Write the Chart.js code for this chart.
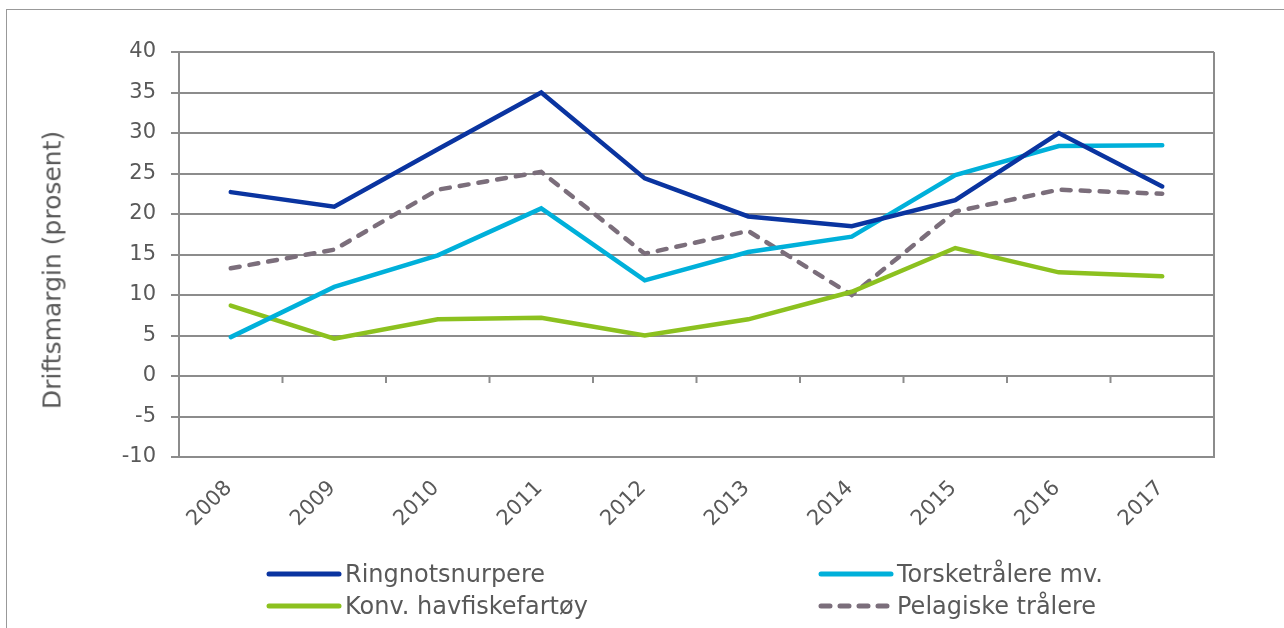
<!DOCTYPE html>
<html>
<head>
<meta charset="utf-8">
<script src="https://cdn.jsdelivr.net/npm/chart.js@4/dist/chart.umd.min.js"></script>
<style>
  html, body { margin: 0; padding: 0; background: #fff; overflow: hidden; }
  #wrap { position: relative; width: 1284px; height: 628px; }
  #frame { position: absolute; left: 6px; top: 9px; width: 1300px; height: 700px; border: 1.5px solid #999; box-sizing: border-box; }
  #price-chart { position: absolute; left: 0; top: 0; }
  #ytitle { position: absolute; left: 52px; top: 270px; transform: translate(-50%, -50%) rotate(-90deg);
            font-family: "DejaVu Sans", Verdana, sans-serif; font-size: 25px; color: #595959; white-space: nowrap; }
  .lg { position: absolute; font-family: "DejaVu Sans", Verdana, sans-serif; font-size: 24px; color: #595959; white-space: nowrap; line-height: 32px; }
  .lg svg { position: absolute; left: 0; top: 11px; }
  .lg span { position: absolute; left: 79px; top: 0; }
</style>
</head>
<body>
<div id="wrap">
  <div id="frame"></div>
  <canvas id="price-chart" width="1284" height="628"></canvas>
  <div id="ytitle">Driftsmargin (prosent)</div>
  <div id="legend"></div>
</div>
<script>
// ============================================================
// Driftsmargin per flåtegruppe, 2008–2017
// ============================================================

var YEARS = ['2008', '2009', '2010', '2011', '2012', '2013', '2014', '2015', '2016', '2017'];

var RINGNOT   = [22.7, 20.9, 28.0, 35.0, 24.4, 19.7, 18.5, 21.7, 30.0, 23.4];
var TORSKETR  = [4.8, 11.0, 14.9, 20.7, 11.8, 15.3, 17.2, 24.8, 28.4, 28.5];
var KONV      = [8.7, 4.6, 7.0, 7.2, 5.0, 7.0, 10.4, 15.8, 12.8, 12.3];
var PELAGISKE = [13.3, 15.6, 23.0, 25.2, 15.1, 17.9, 10.0, 20.3, 23.0, 22.5];

var Y_TICKS = [-10, -5, 0, 5, 10, 15, 20, 25, 30, 35, 40];

var TXT = '#595959';
var GRID = '#8c8c8c';
var FONT = '"DejaVu Sans", Verdana, sans-serif';

var series = [
  { label: 'Ringnotsnurpere',      data: RINGNOT,   color: '#0a34a0', dash: [] },
  { label: 'Torsketrålere mv.',    data: TORSKETR,  color: '#00b0da', dash: [] },
  { label: 'Konv. havfiskefartøy', data: KONV,      color: '#8cc11f', dash: [] },
  { label: 'Pelagiske trålere',    data: PELAGISKE, color: '#7b6e7b', dash: [9, 10] }
];

// legend slots: two columns, two rows (order as in original)
var legendSlots = [ { x: 266, y: 558 }, { x: 818, y: 558 }, { x: 266, y: 590 }, { x: 818, y: 590 } ];

// zero-line ticks + right border of the plot box
var boxPlugin = {
  id: 'boxExtras',
  beforeDatasetsDraw: function(chart) {
    var ctx = chart.ctx, xs = chart.scales.x, ys = chart.scales.y, a = chart.chartArea;
    var y0 = ys.getPixelForValue(0);
    ctx.save();
    ctx.strokeStyle = GRID;
    ctx.lineWidth = 2;
    for (var i = 1; i < YEARS.length; i++) {
      var bx = (xs.getPixelForValue(i - 1) + xs.getPixelForValue(i)) / 2;
      ctx.beginPath();
      ctx.moveTo(bx, y0);
      ctx.lineTo(bx, y0 + 7);
      ctx.stroke();
    }
    ctx.beginPath();
    ctx.moveTo(a.right, a.top);
    ctx.lineTo(a.right, a.bottom);
    ctx.stroke();
    ctx.restore();
  }
};

var chart = new Chart(document.getElementById('price-chart'), {
  type: 'line',
  data: {
    labels: YEARS,
    datasets: series.map(function(s) {
      return {
        label: s.label,
        data: s.data,
        borderColor: s.color,
        backgroundColor: s.color,
        borderWidth: 4.5,
        borderDash: s.dash,
        borderCapStyle: 'round',
        borderJoinStyle: 'miter',
        pointRadius: 0,
        tension: 0
      };
    })
  },
  options: {
    responsive: false,
    devicePixelRatio: 1,
    animation: false,
    layout: { padding: { left: 40, top: 52, right: 70, bottom: 0 } },
    plugins: {
      legend: { display: false },
      tooltip: { enabled: false }
    },
    scales: {
      x: {
        type: 'category',
        offset: true,
        grid: { display: false, drawTicks: false },
        border: { display: true, color: GRID, width: 2 },
        ticks: {
          font: { family: FONT, size: 21 }, color: TXT,
          minRotation: 45, maxRotation: 45,
          padding: 19, labelOffset: -2
        },
        afterFit: function(s) { s.height = 171; }
      },
      y: {
        min: -10, max: 40,
        afterBuildTicks: function(s) { s.ticks = Y_TICKS.map(function(v) { return { value: v }; }); },
        grid: { color: GRID, lineWidth: 2, tickLength: 8, drawTicks: true },
        border: { display: true, color: GRID, width: 2 },
        ticks: {
          font: { family: FONT, size: 21 }, color: TXT,
          padding: 15
        },
        afterFit: function(s) { s.width = 139; }
      }
    }
  },
  plugins: [boxPlugin]
});

// HTML legend
var lgHtml = '';
series.forEach(function(s, i) {
  var p = legendSlots[i];
  var dashAttr = s.dash.length ? ' stroke-dasharray="' + s.dash.join(',') + '"' : '';
  lgHtml += '<div class="lg" style="left:' + p.x + 'px;top:' + p.y + 'px">' +
    '<svg width="76" height="10"><line x1="3" y1="5" x2="73" y2="5" stroke="' + s.color +
    '" stroke-width="5" stroke-linecap="round"' + dashAttr + '/></svg>' +
    '<span>' + s.label + '</span></div>';
});
document.getElementById('legend').innerHTML = lgHtml;
</script>
</body>
</html>
